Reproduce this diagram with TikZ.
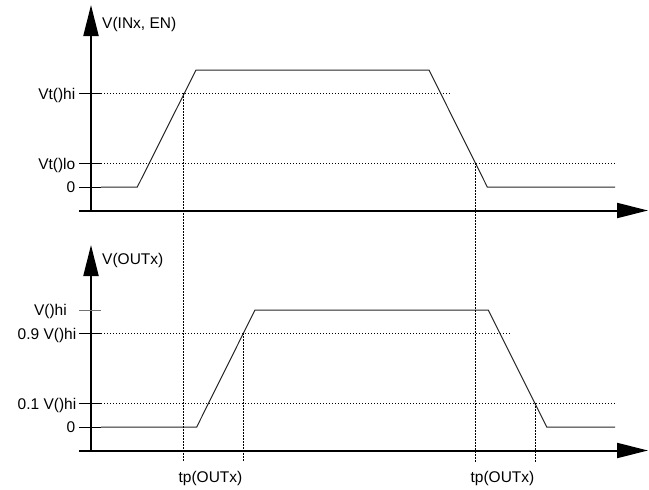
\documentclass[tikz,border=0pt]{standalone}
\usepackage{fontspec}
\setmainfont{Liberation Sans}
\usetikzlibrary{arrows.meta}
\begin{document}
\begin{tikzpicture}[x=1pt,y=-1pt,
  axis/.style={line width=2pt,-{Triangle[length=31pt,width=15pt]}},
  wave/.style={line width=1pt,black!85,line join=miter},
  tick/.style={line width=1pt},
  guide/.style={line width=0.9pt,dash pattern=on 1.3pt off 1.7pt},
  lab/.style={inner sep=0pt,font=\fontsize{15.5}{18}\selectfont},
]
\useasboundingbox (0,0) rectangle (649,490);
% ---------- top plot ----------
\coordinate (o1) at (91,210.5);
\coordinate (yt1) at (91,5);
\coordinate (xs1) at (79,210.5);
\coordinate (xt1) at (648,210.5);
\draw[axis] (o1) -- (yt1);
\draw[axis] (xs1) -- (xt1);
\node[lab,anchor=base west] (ylab1) at (102,28) {V(INx, EN)};
% ticks
\foreach \yy in {187,163.3,93.3}{
  \draw[tick] (79,\yy) -- (101,\yy);
}
\node[lab,anchor=base east] (lhi) at (75.5,99) {Vt()hi};
\node[lab,anchor=base east] (llo) at (75.5,169) {Vt()lo};
\node[lab,anchor=base east] (lz1) at (75.5,192.5) {0};
% guides
\draw[guide] (101,93.3) -- (451,93.3);
\draw[guide] (101,163.3) -- (615,163.3);
% waveform
\draw[wave] (101,187) -- (137.3,187) -- (196,70) -- (429,70) -- (487.3,187) -- (615,187);
% ---------- bottom plot ----------
\coordinate (o2) at (91,450.5);
\coordinate (yt2) at (91,245);
\coordinate (xs2) at (79,450.5);
\coordinate (xt2) at (648,450.5);
\draw[axis] (o2) -- (yt2);
\draw[axis] (xs2) -- (xt2);
\node[lab,anchor=base west] (ylab2) at (102,264.5) {V(OUTx)};
\draw[tick,black!55] (79,310) -- (101,310);
\foreach \yy in {333.3,403.3,427}{
  \draw[tick] (79,\yy) -- (101,\yy);
}
\node[lab,anchor=base east] (lvhi) at (67,315.5) {V()hi};
\node[lab,anchor=base east] (l09) at (76.5,339) {0.9 V()hi};
\node[lab,anchor=base east] (l01) at (76.5,409) {0.1 V()hi};
\node[lab,anchor=base east] (lz2) at (75.5,432.5) {0};
\draw[guide] (101,333.3) -- (510,333.3);
\draw[guide] (101,403.3) -- (615,403.3);
\draw[wave] (101,427) -- (196.7,427) -- (255,310) -- (488.3,310) -- (546.7,427) -- (615,427);
% ---------- vertical guides ----------
\draw[guide] (183.5,93.3) -- (183.5,462);
\draw[guide] (475.5,163.3) -- (475.5,462);
\draw[guide] (243,333.3) -- (243,462);
\draw[guide] (535,403.3) -- (535,462);
\node[lab,anchor=base] (tp1) at (210.5,482.5) {tp(OUTx)};
\node[lab,anchor=base] (tp2) at (502.5,482.5) {tp(OUTx)};
\end{tikzpicture}
\end{document}
